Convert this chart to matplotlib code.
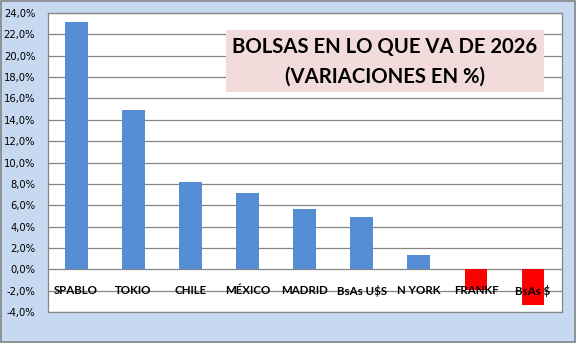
import matplotlib.pyplot as plt
from matplotlib.patches import Rectangle
import numpy as np

# data
bolsas = ["SPABLO", "TOKIO", "CHILE", "MÉXICO", "MADRID", "BsAs U$S", "N YORK", "FRANKF", "BsAs $"]
variacion = [23.2, 14.9, 8.15, 7.1, 5.6, 4.9, 1.3, -1.95, -3.3]
y_ticks = list(range(-4, 26, 2))

blue = "#558ed5"
red = "#ff0000"
grid_col = "#868686"

fig = plt.figure(figsize=(5.76, 3.43), dpi=100)
fig.patch.set_facecolor("#c6d9f1")
ax = fig.add_axes([0.0828, 0.0904, 0.8922, 0.8716])
ax.set_facecolor("white")

x = np.arange(len(bolsas))
colors = [blue if v >= 0 else red for v in variacion]
ax.bar(x, variacion, width=0.4, color=colors, zorder=2)

ax.set_xlim(-0.5, len(bolsas) - 0.5)
ax.set_ylim(-4, 24)
ax.set_yticks(y_ticks)
ax.set_yticklabels([f"{t:.1f}%".replace(".", ",") for t in y_ticks],
                   fontsize=7.2, family="DejaVu Sans")
ax.tick_params(axis="y", length=0, pad=9)
ax.yaxis.grid(True, color=grid_col, linewidth=0.9)
ax.set_axisbelow(True)

ax.set_xticks(x)
ax.set_xticklabels(bolsas, fontsize=8.3, fontweight="bold", family="Lato")
ax.tick_params(axis="x", length=0, pad=-19.5)
# category labels sit on top of the bars, as in the Excel chart
ax.xaxis.set_zorder(3)

for s in ax.spines.values():
    s.set_color(grid_col)
    s.set_linewidth(0.9)

# title box
ax.add_patch(Rectangle((0.347, 0.736), 0.6185, 0.207, transform=ax.transAxes,
                       facecolor="#f2dcdb", edgecolor="none", zorder=4))
ax.text(0.656, 0.885, "BOLSAS EN LO QUE VA DE 2026", transform=ax.transAxes,
        ha="center", va="center", fontsize=14.6, fontweight="bold", family="Lato", zorder=5)
ax.text(0.656, 0.786, "(VARIACIONES EN %)", transform=ax.transAxes,
        ha="center", va="center", fontsize=14.6, fontweight="bold", family="Lato", zorder=5)

# outer border
fig.add_artist(Rectangle((0.001, 0.002), 0.997, 0.996, transform=fig.transFigure,
                         fill=False, edgecolor="#868686", linewidth=1.2))

fig.savefig("out.png", dpi=100, facecolor=fig.get_facecolor())
